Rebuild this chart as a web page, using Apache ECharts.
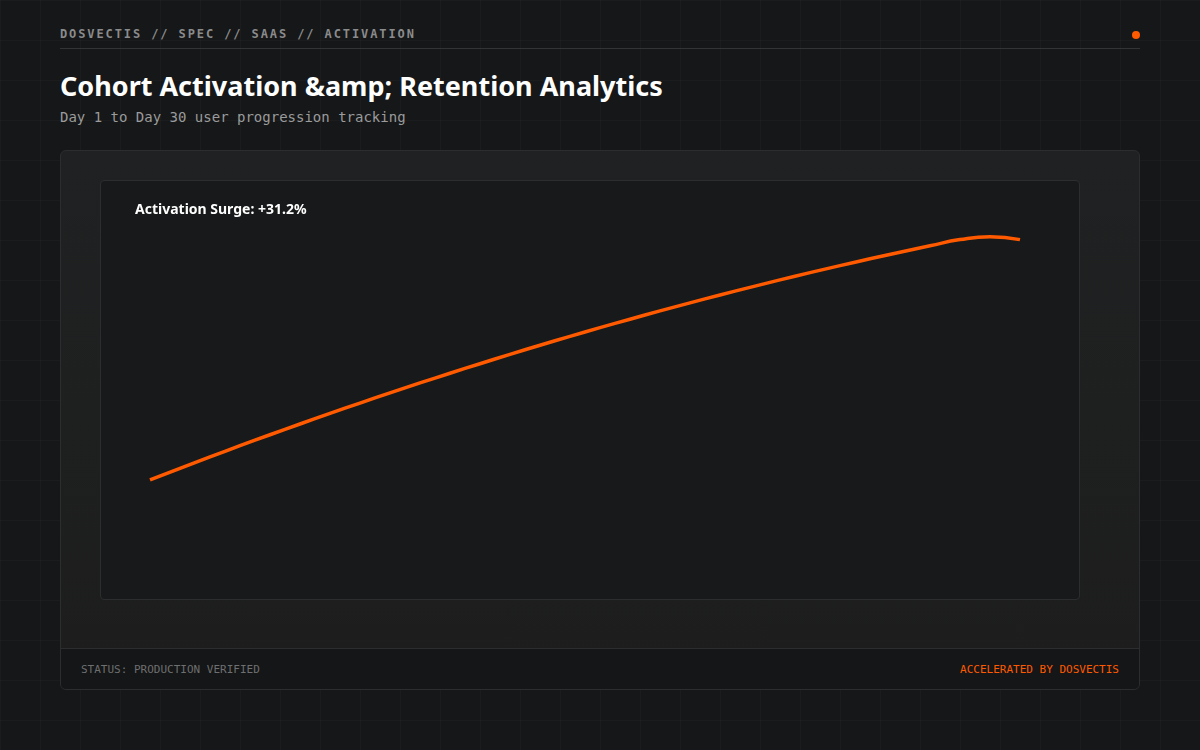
<!DOCTYPE html>
<html><head><meta charset="utf-8">
<script src="https://cdn.jsdelivr.net/npm/echarts@6/dist/echarts.min.js"></script>
<style>
html,body{margin:0;width:1200px;height:750px;overflow:hidden;background:#161718;
background-image:linear-gradient(rgba(255,255,255,0.025) 1px,transparent 1px),linear-gradient(90deg,rgba(255,255,255,0.025) 1px,transparent 1px);background-size:40px 40px;font-family:"Noto Sans",sans-serif;position:relative}
.mono{font-family:"DejaVu Sans Mono",monospace}
#crumb{position:absolute;left:60px;top:27px;font-size:12px;font-weight:bold;letter-spacing:1.9px;color:#8a8b8c}
#rule{position:absolute;left:60px;top:48px;width:1080px;height:1px;background:#333435}
#dot{position:absolute;left:1132px;top:31px;width:8px;height:8px;border-radius:50%;background:#ff5a00}
#title{position:absolute;left:60px;top:67px;font-size:27px;font-weight:bold;color:#fff}
#sub{position:absolute;left:60px;top:109px;font-size:14px;color:#9a9b9c}
#card{position:absolute;left:60px;top:150px;width:1078px;height:538px;border:1px solid #2c2d2e;border-radius:6px;background:linear-gradient(#202122,#1c1d1c);overflow:hidden}
#foot{position:absolute;left:0;bottom:0;width:100%;height:40px;background:#151617;border-top:1px solid #2c2d2e}
#fl{position:absolute;left:20px;top:14px;font-size:11px;color:#6e6f70}
#fr{position:absolute;right:20px;top:14px;font-size:11px;color:#ff5a00}
#panel{position:absolute;left:100px;top:180px;width:978px;height:418px;border:1px solid #2c2d2e;border-radius:4px;background:#18191a}
#chart{position:absolute;left:0;top:0;width:1200px;height:750px}
</style></head><body>
<div id="crumb" class="mono">DOSVECTIS // SPEC // SAAS // ACTIVATION</div>
<div id="rule"></div><div id="dot"></div>
<div id="title">Cohort Activation &amp;amp; Retention Analytics</div>
<div id="sub" class="mono">Day 1 to Day 30 user progression tracking</div>
<div id="card"><div id="foot"><div id="fl" class="mono">STATUS: PRODUCTION VERIFIED</div><div id="fr" class="mono">ACCELERATED BY DOSVECTIS</div></div></div>
<div id="panel"></div>
<div id="chart"></div>
<script>
const days = Array.from({length:30},(_,i)=>'Day '+(i+1));
const activation = [28.6,31.36,34.07,36.74,39.35,41.91,44.43,46.89,49.31,51.68,53.99,56.26,58.48,60.65,62.77,64.84,66.85,68.83,70.75,72.62,74.44,76.21,77.94,79.61,81.24,82.81,84.34,85.81,86.5,85.8];
const annotation = 'Activation Surge: +31.2%';
const chart = echarts.init(document.getElementById('chart'));
chart.setOption({
  animation:false,
  title:{text:annotation,left:130,top:198,textStyle:{color:'#fff',fontSize:14,fontWeight:'bold',fontFamily:'Noto Sans'}},
  grid:{left:150,right:180,top:180,bottom:150},
  xAxis:{type:'category',data:days,boundaryGap:false,show:false},
  yAxis:{type:'value',min:0,max:100,show:false},
  series:[{type:'line',data:activation,smooth:true,showSymbol:false,lineStyle:{color:'#ff5a00',width:3.5}}]
});
</script>
</body></html>
